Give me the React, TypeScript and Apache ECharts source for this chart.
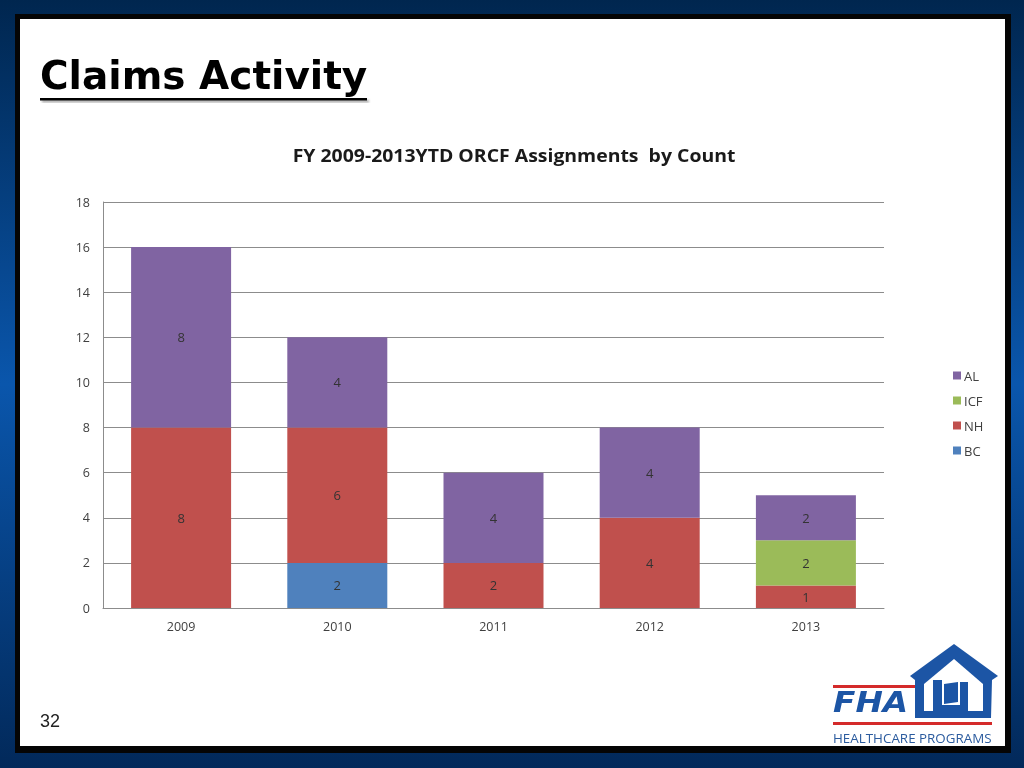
import React, { useEffect, useRef } from "react";
import * as echarts from "echarts";

const categories = ["2009", "2010", "2011", "2012", "2013"];
const bcValues = [0, 2, 0, 0, 0];
const nhValues = [8, 6, 2, 4, 1];
const icfValues = [0, 0, 0, 0, 2];
const alValues = [8, 4, 4, 4, 2];
const legendNames = ["AL", "ICF", "NH", "BC"];

const chartTitle = "FY 2009-2013YTD ORCF Assignments  by Count";
const slideTitle = "Claims Activity";
const pageNumber = "32";

const BLUE_LOGO = "#1c55a5";
const RED_LOGO = "#d42a2a";

export default function App() {
  const ref = useRef<HTMLDivElement>(null);

  useEffect(() => {
    document.body.style.margin = "0";
    const chart = echarts.init(ref.current!, undefined, { renderer: "svg" });
    const labelCfg = {
      show: true,
      position: "inside",
      color: "#333333",
      fontSize: 13,
      fontFamily: "Open Sans",
      formatter: (p: any) => (p.value ? String(p.value) : ""),
    };
    const mk = (name: string, data: number[], color: string) => ({
      name,
      type: "bar",
      stack: "total",
      data,
      barWidth: 100,
      itemStyle: { color },
      label: labelCfg,
      emphasis: { disabled: true },
    });

    chart.setOption({
      animation: false,
      grid: { left: 103, right: 140, top: 202, bottom: 160 },
      legend: {
        data: legendNames,
        orient: "vertical",
        left: 953,
        top: 369,
        itemWidth: 8,
        itemHeight: 8,
        itemGap: 12,
        icon: "rect",
        padding: 0,
        textStyle: { fontSize: 13, color: "#404040", fontFamily: "Open Sans", padding: [0, 0, 0, -2] },
      },
      xAxis: {
        type: "category",
        data: categories,
        axisLine: { lineStyle: { color: "#8c8c8c" } },
        axisTick: { show: false },
        axisLabel: { color: "#404040", fontSize: 12.5, margin: 12, fontFamily: "Open Sans" },
      },
      yAxis: {
        type: "value",
        min: 0,
        max: 18,
        interval: 2,
        axisLine: { show: true, lineStyle: { color: "#8c8c8c" } },
        axisTick: { show: false },
        splitLine: { lineStyle: { color: "#8c8c8c" } },
        axisLabel: { color: "#404040", fontSize: 12.5, margin: 13, fontFamily: "Open Sans" },
      },
      series: [
        mk("BC", bcValues, "#4F81BD"),
        mk("NH", nhValues, "#C0504D"),
        mk("ICF", icfValues, "#9BBB59"),
        mk("AL", alValues, "#8064A2"),
      ],
      graphic: [
        {
          type: "rect",
          z: -20,
          shape: { x: 0, y: 0, width: 1024, height: 768 },
          style: {
            fill: {
              type: "linear",
              x: 0,
              y: 0,
              x2: 0,
              y2: 1,
              colorStops: [
                { offset: 0, color: "#00264f" },
                { offset: 0.5, color: "#0a56ac" },
                { offset: 1, color: "#02295a" },
              ],
            },
          },
        },
        {
          type: "rect",
          z: -19,
          shape: { x: 15, y: 14, width: 996, height: 739 },
          style: { fill: "#050505" },
        },
        {
          type: "rect",
          z: -18,
          shape: { x: 20, y: 19, width: 985, height: 727 },
          style: { fill: "#ffffff" },
        },
        {
          type: "text",
          z: 5,
          x: 514,
          y: 155,
          scaleX: 1.08,
          style: {
            text: chartTitle,
            fill: "#1a1a1a",
            font: "bold 18px 'Open Sans'",
            textAlign: "center",
            textVerticalAlign: "middle",
          },
        },
        {
          type: "text",
          z: 5,
          x: 40,
          y: 95,
          style: {
            text: slideTitle,
            fill: "#000000",
            font: "bold 39px 'DejaVu Sans'",
            textVerticalAlign: "bottom",
            textBaseline: "alphabetic",
            shadowColor: "rgba(0,0,0,0.35)",
            shadowOffsetX: 2,
            shadowOffsetY: 2,
            shadowBlur: 2,
          },
        },
        {
          type: "rect",
          z: 5,
          shape: { x: 40, y: 98, width: 327, height: 2.5 },
          style: { fill: "#000", shadowColor: "rgba(0,0,0,0.35)", shadowOffsetX: 2, shadowOffsetY: 2, shadowBlur: 2 },
        },
        {
          type: "text",
          z: 5,
          x: 40,
          y: 721,
          style: {
            text: pageNumber,
            fill: "#222",
            font: "18px 'Liberation Sans'",
            textVerticalAlign: "middle",
          },
        },
        // logo
        {
          type: "group",
          z: 5,
          children: [
            { type: "rect", shape: { x: 833, y: 685, width: 84, height: 3 }, style: { fill: RED_LOGO } },
            { type: "rect", shape: { x: 833, y: 722, width: 159, height: 3 }, style: { fill: RED_LOGO } },
            {
              type: "text",
              x: 833,
              y: 716,
              scaleX: 1.13,
              style: {
                text: "FHA",
                fill: BLUE_LOGO,
                font: "italic bold 29px 'DejaVu Sans'",
                textBaseline: "alphabetic",
                textVerticalAlign: "bottom",
              },
            },
            {
              type: "text",
              x: 833,
              y: 738,
              scaleX: 1.03,
              style: {
                text: "HEALTHCARE PROGRAMS",
                fill: "#2b5b9e",
                font: "13px 'Open Sans'",
                textVerticalAlign: "middle",
              },
            },
            {
              type: "polygon",
              shape: {
                points: [
                  [910, 676], [954, 644], [998, 676], [992, 680], [991, 718],
                  [915, 718], [915, 680],
                ],
              },
              style: { fill: BLUE_LOGO },
            },
            {
              type: "polygon",
              shape: {
                points: [[924, 684], [954, 659], [983, 684], [983, 711], [924, 711]],
              },
              style: { fill: "#ffffff" },
            },
            {
              type: "polygon",
              shape: {
                points: [
                  [933, 680], [942, 680], [942, 705], [960, 705], [960, 682],
                  [968, 682], [968, 713], [933, 713],
                ],
              },
              style: { fill: BLUE_LOGO },
            },
            {
              type: "polygon",
              shape: { points: [[944, 684], [958, 682], [958, 702], [944, 704]] },
              style: { fill: BLUE_LOGO },
            },
          ],
        },
      ],
    });
    return () => chart.dispose();
  }, []);

  return (
    <div
      ref={ref}
      style={{ position: "fixed", left: 0, top: 0, width: 1024, height: 768 }}
    />
  );
}
